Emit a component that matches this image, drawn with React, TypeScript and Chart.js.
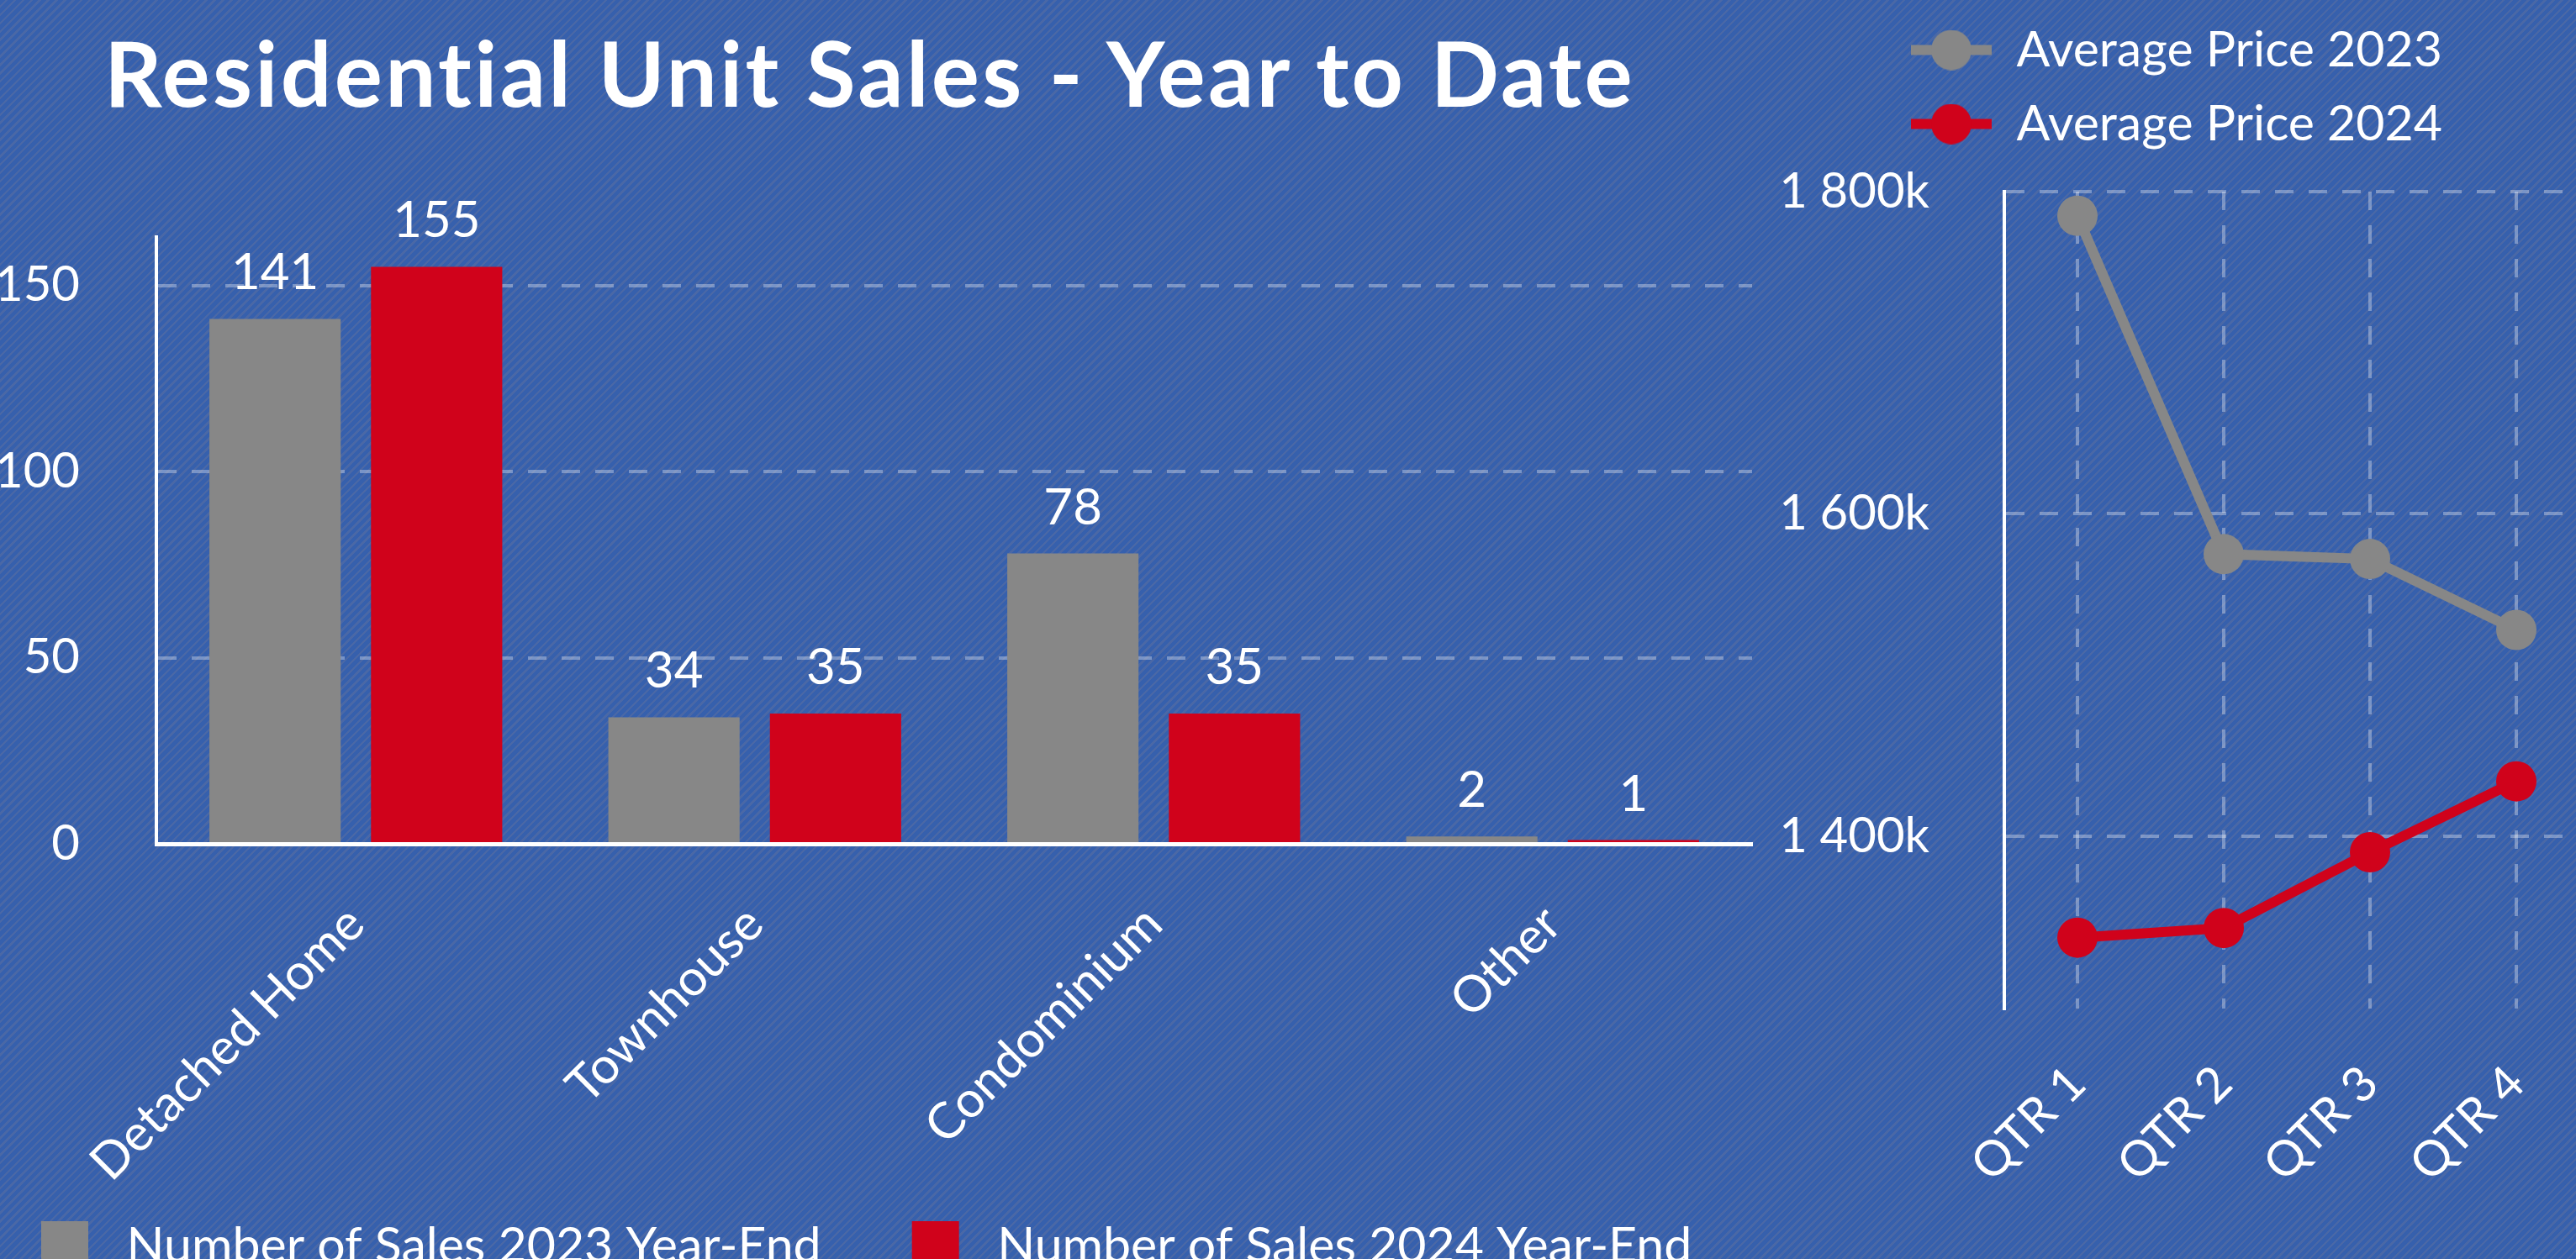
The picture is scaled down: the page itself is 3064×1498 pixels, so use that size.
import React, { useEffect, useRef } from 'react';
import { Chart, registerables } from 'chart.js';

Chart.register(...registerables);

// ---------- data ----------
const categories = ['Detached Home', 'Townhouse', 'Condominium', 'Other'];
const sales2023 = [141, 34, 78, 2];
const sales2024 = [155, 35, 35, 1];
const salesTicks = [0, 50, 100, 150];
const salesLegend = ['Number of Sales 2023 Year-End', 'Number of Sales 2024 Year-End'];

const quarters = ['QTR 1', 'QTR 2', 'QTR 3', 'QTR 4'];
const avgPrice2023 = [1785, 1575, 1572, 1528]; // thousands
const avgPrice2024 = [1337, 1343, 1390, 1434]; // thousands
const priceTicks = [1400, 1600, 1800];
const priceLegend = ['Average Price 2023', 'Average Price 2024'];

const TITLE = 'Residential Unit Sales - Year to Date';

// ---------- styles ----------
const WHITE = '#ffffff';
const GRID = 'rgba(255,255,255,0.33)';
const GRAY = '#878787';
const RED = '#d0021b';
const FONT = 'Lato';

function lineMarker(color: string) {
  const c = document.createElement('canvas');
  c.width = 96;
  c.height = 48;
  const g = c.getContext('2d')!;
  g.fillStyle = color;
  g.fillRect(0, 18, 96, 12);
  g.beginPath();
  g.arc(48, 24, 24, 0, Math.PI * 2);
  g.fill();
  return c;
}

function boxMarker(color: string) {
  const c = document.createElement('canvas');
  c.width = 180;
  c.height = 72;
  const g = c.getContext('2d')!;
  g.fillStyle = color;
  g.beginPath();
  (g as any).roundRect(108, 0, 56, 56, 5);
  g.fill();
  return c;
}

const legendShift = {
  id: 'legendShift',
  afterLayout(chart: any, _args: any, opts: any) {
    const lg = chart.legend;
    if (!lg) return;
    const dx = opts.dx || 0;
    const dy = opts.dy || 0;
    lg.left += dx;
    lg.right += dx;
    lg.top += dy;
    lg.bottom += dy;
  },
};

const barValueLabels = {
  id: 'barValueLabels',
  afterDatasetsDraw(chart: any) {
    const ctx = chart.ctx;
    ctx.save();
    ctx.fillStyle = WHITE;
    ctx.font = `60px ${FONT}`;
    ctx.textAlign = 'center';
    ctx.textBaseline = 'alphabetic';
    chart.data.datasets.forEach((ds: any, di: number) => {
      const meta = chart.getDatasetMeta(di);
      meta.data.forEach((el: any, i: number) => {
        ctx.fillText(String(ds.data[i]), el.x, el.y - 35);
      });
    });
    ctx.restore();
  },
};

function fmtK(v: number) {
  const th = Math.floor(v / 1000);
  const rest = String(v % 1000).padStart(3, '0');
  return `${th} ${rest}k`;
}

export default function App() {
  const barRef = useRef<HTMLCanvasElement>(null);
  const lineRef = useRef<HTMLCanvasElement>(null);

  useEffect(() => {
    Chart.defaults.font.family = FONT;
    Chart.defaults.color = WHITE;

    const barMarkers = [boxMarker(GRAY), boxMarker(RED)];
    const lineMarkers = [lineMarker(GRAY), lineMarker(RED)];

    const bar = new Chart(barRef.current!, {
      type: 'bar',
      data: {
        labels: categories,
        datasets: [
          {
            label: salesLegend[0],
            data: sales2023,
            backgroundColor: GRAY,
            categoryPercentage: 0.81,
            barPercentage: 0.8125,
          },
          {
            label: salesLegend[1],
            data: sales2024,
            backgroundColor: RED,
            categoryPercentage: 0.81,
            barPercentage: 0.8125,
          },
        ],
      },
      options: {
        responsive: false,
        animation: false,
        layout: { padding: { top: 282, left: 0, right: 0, bottom: 0 } },
        scales: {
          x: {
            grid: { display: false, drawTicks: false },
            border: { display: true, color: WHITE, width: 5 },
            ticks: {
              color: WHITE,
              font: { family: FONT, size: 60 },
              minRotation: 45,
              maxRotation: 45,
              autoSkip: false,
              padding: 60,
            },
            afterFit: (s: any) => {
              s.height = 449;
            },
          },
          y: {
            min: 0,
            max: 163,
            afterBuildTicks: (s: any) => {
              s.ticks = salesTicks.map((v) => ({ value: v }));
            },
            grid: {
              color: (c: any) => (c.tick && c.tick.value === 0 ? 'rgba(0,0,0,0)' : GRID),
              lineWidth: 4,
              drawTicks: false,
            },
            border: { display: true, color: WHITE, width: 4, dash: [22, 18] },
            ticks: { color: WHITE, font: { family: FONT, size: 58 }, padding: 91 },
            afterFit: (s: any) => {
              s.width = 186;
            },
          },
          yRightSpace: {
            type: 'linear',
            position: 'right',
            display: true,
            grid: { display: false, drawTicks: false },
            border: { display: false },
            ticks: { display: false },
            afterFit: (s: any) => {
              s.width = 116;
            },
          },
        },
        plugins: {
          tooltip: { enabled: false },
          legend: {
            position: 'bottom',
            align: 'start',
            labels: {
              color: WHITE,
              font: { family: FONT, size: 59 },
              usePointStyle: true,
              pointStyleWidth: 180,
              boxHeight: 56,
              padding: 0,
              generateLabels: (chart: any) =>
                chart.data.datasets.map((ds: any, i: number) => ({
                  text: ds.label,
                  fillStyle: ds.backgroundColor,
                  strokeStyle: ds.backgroundColor,
                  lineWidth: 0,
                  pointStyle: barMarkers[i],
                  fontColor: WHITE,
                  hidden: false,
                  datasetIndex: i,
                })),
            },
          },
          legendShift: { dx: -59, dy: 0 },
        } as any,
      },
      plugins: [legendShift, barValueLabels],
    } as any);

    const line = new Chart(lineRef.current!, {
      type: 'line',
      data: {
        labels: quarters,
        datasets: [
          {
            label: priceLegend[0],
            data: avgPrice2023,
            borderColor: GRAY,
            backgroundColor: GRAY,
            borderWidth: 12,
            pointRadius: 24,
            pointBackgroundColor: GRAY,
            pointBorderWidth: 0,
            tension: 0,
            clip: false,
          },
          {
            label: priceLegend[1],
            data: avgPrice2024,
            borderColor: RED,
            backgroundColor: RED,
            borderWidth: 12,
            pointRadius: 24,
            pointBackgroundColor: RED,
            pointBorderWidth: 0,
            tension: 0,
            clip: false,
          },
        ],
      },
      options: {
        responsive: false,
        animation: false,
        layout: { padding: { top: 42, left: 0, right: 70, bottom: 0 } },
        scales: {
          x: {
            offset: true,
            grid: { offset: false, color: GRID, lineWidth: 4, drawTicks: false },
            border: { display: false, dash: [22, 18] },
            ticks: {
              color: WHITE,
              font: { family: FONT, size: 58 },
              minRotation: 45,
              maxRotation: 45,
              autoSkip: false,
              padding: 55,
            },
            afterFit: (s: any) => {
              s.height = 298;
            },
          },
          y: {
            min: 1293,
            max: 1800,
            afterBuildTicks: (s: any) => {
              s.ticks = priceTicks.map((v) => ({ value: v }));
            },
            grid: { color: GRID, lineWidth: 4, drawTicks: false },
            border: { display: true, color: WHITE, width: 4, dash: [22, 18] },
            ticks: {
              color: WHITE,
              font: { family: FONT, size: 58 },
              padding: 89,
              callback: (v: any) => fmtK(Number(v)),
            },
            afterFit: (s: any) => {
              s.width = 334;
            },
          },
        },
        plugins: {
          tooltip: { enabled: false },
          legend: {
            position: 'top',
            align: 'start',
            labels: {
              color: WHITE,
              font: { family: FONT, size: 59 },
              usePointStyle: true,
              pointStyleWidth: 96,
              boxHeight: 48,
              padding: 29,
              generateLabels: (chart: any) =>
                chart.data.datasets.map((ds: any, i: number) => ({
                  text: ds.label,
                  fillStyle: ds.borderColor,
                  strokeStyle: ds.borderColor,
                  lineWidth: 0,
                  pointStyle: lineMarkers[i],
                  fontColor: WHITE,
                  hidden: false,
                  datasetIndex: i,
                })),
            },
          },
          legendShift: { dx: 194, dy: -41 },
        } as any,
      },
      plugins: [legendShift],
    } as any);

    return () => {
      bar.destroy();
      line.destroy();
    };
  }, []);

  return (
    <div
      style={{
        position: 'fixed',
        left: 0,
        top: 0,
        width: 3064,
        height: 1498,
        overflow: 'hidden',
        backgroundColor: '#3861ad',
        backgroundImage:
          'repeating-linear-gradient(135deg, #3660ad 0px, #3660ad 4.5px, #4a68a6 4.5px, #4a68a6 7px)',
      }}
    >
      <div
        style={{
          position: 'absolute',
          left: 124,
          top: 32,
          fontFamily: 'Lato',
          fontWeight: 700,
          fontSize: 107,
          letterSpacing: '3.3px',
          lineHeight: 1,
          color: WHITE,
          whiteSpace: 'nowrap',
        }}
      >
        {TITLE}
      </div>
      <canvas
        ref={barRef}
        width={2200}
        height={1522}
        style={{ position: 'absolute', left: 0, top: 0, width: 2200, height: 1522 }}
      />
      <canvas
        ref={lineRef}
        width={1100}
        height={1498}
        style={{ position: 'absolute', left: 2050, top: 0, width: 1100, height: 1498 }}
      />
    </div>
  );
}
